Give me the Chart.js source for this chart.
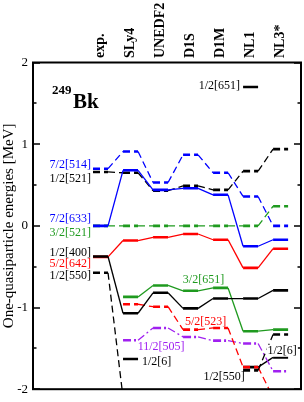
<!DOCTYPE html>
<html><head><meta charset="utf-8">
<script src="https://cdn.jsdelivr.net/npm/chart.js@4/dist/chart.umd.min.js"></script>
<style>html,body{margin:0;padding:0;background:#fff}#wrap{width:304px;height:402px;position:relative}</style>
</head><body><div id="wrap"><canvas id="c" width="304" height="402"></canvas></div>
<script>
// ---- data ----
const models = ['exp.', 'SLy4', 'UNEDF2', 'D1S', 'D1M', 'NL1', 'NL3*'];
const yTickValues = [-2, -1, 0, 1, 2];
const nucleusMass = '249';
const nucleusSymbol = 'Bk';
// one-quasiparticle energies (MeV) per model; null = not shown
const lvl_7_2_514 = [0.70, 0.91, 0.53, 0.87, 0.65, 0.36, 0.00];
const lvl_1_2_521 = [0.66, 0.65, 0.43, 0.49, 0.44, 0.67, 0.94];
const lvl_7_2_633 = [0.00, 0.68, 0.44, 0.46, 0.38, -0.25, -0.17];
const lvl_3_2_521 = [0.00, 0.00, 0.00, 0.00, 0.00, 0.00, 0.24];
const lvl_1_2_400 = [-0.375, -1.07, -0.82, -1.01, -0.89, -0.89, -0.79];
const lvl_5_2_642 = [-0.38, -0.18, -0.14, -0.10, -0.17, -0.515, -0.28];
const lvl_1_2_550 = [-0.575, -2.10, null, null, null, -1.77, -1.33];
const lvl_3_2_651 = [null, -0.87, -0.73, -0.795, -0.76, -1.29, -1.27];
const lvl_5_2_523 = [null, -0.96, -0.99, -1.27, -1.25, -1.73, -2.10];
const lvl_11_2_505 = [null, -1.40, -1.25, -1.36, -1.405, -1.44, -1.78];
const lvl_1_2_6xx = [null, -1.63, null, null, null, -1.73, -1.61];
const lvl_1_2_651 = [null, null, null, null, null, 1.70, null];

// ---- styles ----
const BLUE = '#0000ff', BLACK = '#000000', RED = '#ff0000', GREEN = '#1f9a1f', PURPLE = '#a020f0';
const DASH = [7, 4], DASHDOT = [8, 3, 2, 3];
const HALF = 0.25;

const seriesDefs = [
  {name: '7/2[633]', v: lvl_7_2_633, c: BLUE, d: []},
  {name: '1/2[400]', v: lvl_1_2_400, c: BLACK, d: []},
  {name: '7/2[514]', v: lvl_7_2_514, c: BLUE, d: DASH},
  {name: '1/2[521]', v: lvl_1_2_521, c: BLACK, d: DASH},
  {name: '3/2[521]', v: lvl_3_2_521, c: GREEN, d: DASH},
  {name: '5/2[642]', v: lvl_5_2_642, c: RED, d: []},
  {name: '1/2[550]', v: lvl_1_2_550, c: BLACK, d: DASH},
  {name: '3/2[651]', v: lvl_3_2_651, c: GREEN, d: []},
  {name: '5/2[523]', v: lvl_5_2_523, c: RED, d: DASH},
  {name: '11/2[505]', v: lvl_11_2_505, c: PURPLE, d: DASHDOT},
  {name: '1/2[6]', v: lvl_1_2_6xx, c: BLACK, d: []},
  {name: '1/2[651]', v: lvl_1_2_651, c: BLACK, d: []}
];

function toPoints(vals) {
  const pts = [];
  vals.forEach((v, i) => {
    if (v === null) pts.push({x: i, y: null});
    else { pts.push({x: i - HALF, y: v}); pts.push({x: i + HALF, y: v}); }
  });
  return pts;
}
const isLevel = ctx => Math.round(ctx.p0.parsed.x) === Math.round(ctx.p1.parsed.x);

const datasets = seriesDefs.map(s => ({
  label: s.name,
  data: toPoints(s.v),
  borderColor: s.c,
  borderDash: s.d,
  borderWidth: 1.3,
  pointRadius: 0,
  tension: 0,
  spanGaps: false,
  fill: false,
  segment: { borderWidth: ctx => isLevel(ctx) ? 2.6 : 1.3 }
}));

// text annotations: [text, color, x (model index units), y (MeV), align]
const annotations = [
  ['7/2[514]', BLUE, -0.32, 0.75, 'right'],
  ['1/2[521]', BLACK, -0.32, 0.58, 'right'],
  ['7/2[633]', BLUE, -0.32, 0.08, 'right'],
  ['3/2[521]', GREEN, -0.32, -0.08, 'right'],
  ['1/2[400]', BLACK, -0.32, -0.335, 'right'],
  ['5/2[642]', RED, -0.32, -0.47, 'right'],
  ['1/2[550]', BLACK, -0.32, -0.61, 'right'],
  ['3/2[651]', GREEN, 3.43, -0.665, 'center'],
  ['5/2[523]', RED, 3.5, -1.175, 'center'],
  ['11/2[505]', PURPLE, 2.02, -1.478, 'center'],
  ['1/2[6]', BLACK, 1.38, -1.665, 'left'],
  ['1/2[550]', BLACK, 4.12, -1.845, 'center'],
  ['1/2[6]', BLACK, 6.05, -1.53, 'center', true],
  ['1/2[651]', BLACK, 4.65, 1.71, 'right']
];

const SERIF = '"Liberation Serif", "Times New Roman", serif';

const decor = {
  id: 'decor',
  afterDatasetsDraw(chart) {
    const {ctx, chartArea: a, scales: {x, y}} = chart;
    ctx.save();
    // frame
    ctx.strokeStyle = '#000'; ctx.lineWidth = 2; ctx.setLineDash([]);
    ctx.strokeRect(a.left, a.top, a.right - a.left, a.bottom - a.top);
    // inward ticks
    ctx.lineWidth = 1.6;
    for (let v = -2; v <= 2.001; v += 0.5) {
      const py = Math.round(y.getPixelForValue(v)) + 0.0;
      const len = Math.abs(v - Math.round(v)) < 1e-6 ? 7 : 3.5;
      ctx.beginPath();
      ctx.moveTo(a.left, py); ctx.lineTo(a.left + len, py);
      ctx.moveTo(a.right, py); ctx.lineTo(a.right - len, py);
      ctx.stroke();
    }
    // level labels
    ctx.font = '12px ' + SERIF;
    ctx.textBaseline = 'middle';
    annotations.forEach(([t, c, ax, ay, al, bg]) => {
      const px = x.getPixelForValue(ax), py = y.getPixelForValue(ay);
      ctx.textAlign = al;
      if (bg) {
        const w = ctx.measureText(t).width;
        ctx.fillStyle = '#fff';
        const lx = al === 'center' ? px - w / 2 : (al === 'right' ? px - w : px);
        ctx.fillRect(lx - 1, py - 6, w + 2, 12);
      }
      ctx.fillStyle = c;
      ctx.fillText(t, px, py);
    });
    // nucleus label
    ctx.fillStyle = '#000';
    ctx.textAlign = 'left'; ctx.textBaseline = 'alphabetic';
    ctx.font = 'bold 13px ' + SERIF;
    ctx.fillText(nucleusMass, x.getPixelForValue(-1.617), y.getPixelForValue(1.62));
    ctx.font = 'bold 21px ' + SERIF;
    ctx.fillText(nucleusSymbol, x.getPixelForValue(-0.917), y.getPixelForValue(1.44));
    // model labels (rotated)
    ctx.font = 'bold 14px ' + SERIF;
    ctx.textAlign = 'left'; ctx.textBaseline = 'middle';
    models.forEach((m, i) => {
      ctx.save();
      ctx.translate(x.getPixelForValue(i), a.top - 4.5);
      ctx.rotate(-Math.PI / 2);
      ctx.fillText(m, 0, 0);
      ctx.restore();
    });
    ctx.restore();
  }
};

new Chart(document.getElementById('c'), {
  type: 'line',
  data: { datasets },
  options: {
    responsive: false,
    animation: false,
    devicePixelRatio: 1,
    layout: { padding: { top: 62.5, right: 3, bottom: 5.3, left: 0 } },
    plugins: { legend: { display: false }, tooltip: { enabled: false } },
    scales: {
      x: { type: 'linear', min: -2.25, max: 6.68, display: false },
      y: {
        type: 'linear', min: -2, max: 2,
        afterFit(s) { s.width = 33; },
        afterBuildTicks(s) { s.ticks = yTickValues.map(v => ({value: v})); },
        border: { display: false },
        grid: { display: false, drawTicks: false },
        ticks: { color: '#000', font: { family: SERIF, size: 13 }, padding: 5 },
        title: { display: true, text: 'One-quasiparticle energies [MeV]', color: '#000',
                 font: { family: SERIF, size: 15 }, padding: { top: 0, bottom: 0 } }
      }
    }
  },
  plugins: [decor]
});
</script></body></html>
